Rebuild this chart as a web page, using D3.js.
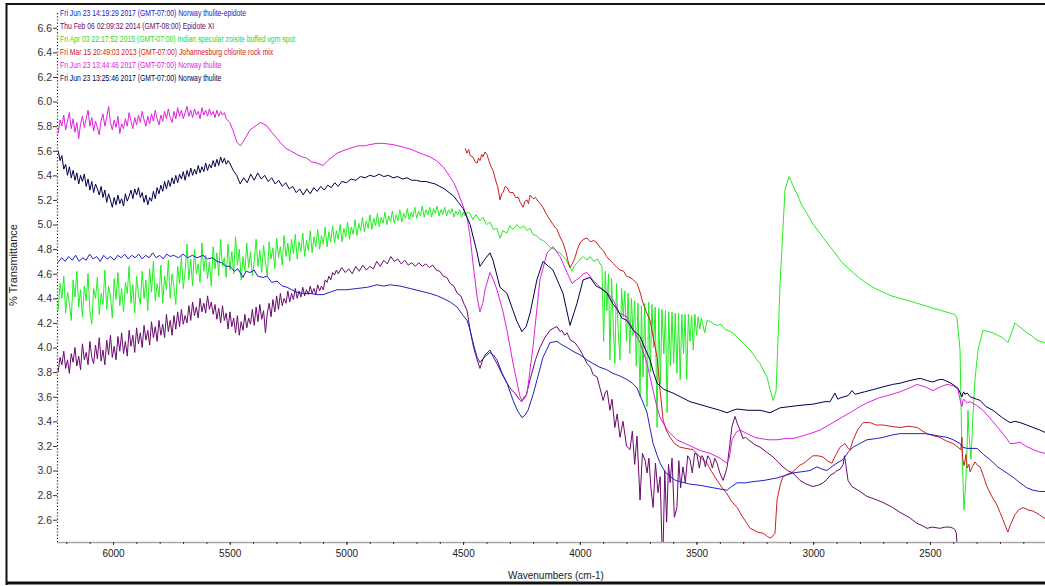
<!DOCTYPE html>
<html><head><meta charset="utf-8">
<script src="https://cdn.jsdelivr.net/npm/d3@7"></script>
<style>body{margin:0;background:#fff}svg{display:block;font-family:"Liberation Sans",Arial,sans-serif}</style>
</head><body><svg id="c" width="1045" height="586"></svg>
<script>
const legendLabels = [
  "Fri Jun 23 14:19:29 2017 (GMT-07:00) Norway thulite-epidote",
  "Thu Feb 06 02:09:32 2014 (GMT-08:00) Epidote XI",
  "Fri Apr 03 22:17:52 2015 (GMT-07:00) Indian specular zoisite buffed vgm spot",
  "Fri Mar 15 20:49:03 2013 (GMT-07:00) Johannesburg chlorite rock  mix",
  "Fri Jun 23 13:44:46 2017 (GMT-07:00) Norway thulite",
  "Fri Jun 23 13:25:46 2017 (GMT-07:00) Norway thulite"
];
const seriesColors = ["#2020c8", "#6a0a6e", "#22ee22", "#cc2020", "#e020e0", "#00004e"];
const xTickValues = [6000, 5500, 5000, 4500, 4000, 3500, 3000, 2500];
const xMinorTicks = d3.range(6200, 2000, -100);
const yTickValues = [2.6, 2.8, 3.0, 3.2, 3.4, 3.6, 3.8, 4.0, 4.2, 4.4, 4.6, 4.8, 5.0, 5.2, 5.4, 5.6, 5.8, 6.0, 6.2, 6.4, 6.6];
const xTitle = "Wavenumbers (cm-1)";
const yTitle = "% Transmittance";

const blueData = [[6236,4.69],[6220,4.73],[6205,4.70],[6190,4.74],[6175,4.71],[6160,4.75],[6145,4.70],[6130,4.73],[6115,4.71],[6100,4.76],[6085,4.72],[6070,4.74],[6055,4.70],[6040,4.75],[6025,4.72],[6010,4.74],[5995,4.71],[5980,4.75],[5965,4.73],[5950,4.76],[5935,4.72],[5920,4.75],[5905,4.73],[5890,4.76],[5875,4.72],[5860,4.75],[5845,4.73],[5830,4.77],[5815,4.73],[5800,4.75],[5785,4.72],[5770,4.76],[5755,4.74],[5740,4.75],[5720,4.73],[5700,4.76],[5680,4.73],[5660,4.75],[5640,4.73],[5614,4.75],[5595,4.72],[5575,4.73],[5554,4.70],[5535,4.69],[5515,4.66],[5499,4.66],[5480,4.62],[5465,4.64],[5443,4.57],[5430,4.62],[5413,4.61],[5395,4.63],[5380,4.58],[5357,4.57],[5340,4.58],[5320,4.53],[5297,4.54],[5275,4.50],[5254,4.49],[5235,4.47],[5212,4.45],[5185,4.44],[5156,4.44],[5125,4.43],[5100,4.43],[5070,4.45],[5040,4.47],[5000,4.47],[4955,4.48],[4910,4.49],[4869,4.51],[4840,4.50],[4813,4.51],[4770,4.50],[4727,4.48],[4685,4.46],[4642,4.44],[4610,4.42],[4586,4.40],[4555,4.37],[4526,4.33],[4500,4.26],[4483,4.22],[4470,4.14],[4455,4.02],[4440,3.92],[4428,3.88],[4405,3.93],[4385,3.96],[4370,3.94],[4355,3.90],[4335,3.80],[4312,3.71],[4286,3.57],[4265,3.48],[4248,3.43],[4235,3.45],[4222,3.49],[4200,3.62],[4183,3.74],[4158,3.92],[4140,3.99],[4128,4.04],[4098,4.05],[4075,4.02],[4055,4.00],[4030,3.97],[3999,3.94],[3970,3.90],[3943,3.87],[3915,3.84],[3885,3.82],[3858,3.79],[3830,3.77],[3798,3.74],[3775,3.71],[3755,3.67],[3735,3.58],[3712,3.47],[3700,3.35],[3686,3.22],[3670,3.13],[3656,3.06],[3635,2.99],[3613,2.95],[3590,2.92],[3571,2.91],[3530,2.89],[3485,2.88],[3429,2.86],[3400,2.85],[3369,2.84],[3350,2.87],[3326,2.90],[3290,2.90],[3258,2.91],[3210,2.92],[3155,2.94],[3120,2.96],[3087,2.98],[3050,2.99],[3014,3.00],[2984,3.03],[2960,3.01],[2941,3.00],[2915,3.04],[2890,3.07],[2872,3.09],[2850,3.15],[2829,3.19],[2800,3.22],[2770,3.25],[2730,3.26],[2701,3.27],[2660,3.29],[2628,3.30],[2590,3.30],[2555,3.30],[2520,3.30],[2487,3.29],[2460,3.28],[2427,3.27],[2400,3.25],[2371,3.22],[2360,3.19],[2341,3.18],[2320,3.18],[2298,3.18],[2270,3.13],[2243,3.09],[2210,3.03],[2170,2.98],[2140,2.94],[2114,2.90],[2085,2.86],[2058,2.84],[2030,2.83],[2007,2.83]];

const purpleData = [[6235,3.80],[6227,3.92],[6219,3.86],[6211,3.97],[6203,3.83],[6195,3.90],[6187,3.79],[6179,3.95],[6171,3.88],[6163,4.00],[6155,3.85],[6147,3.93],[6139,3.82],[6131,4.03],[6123,3.90],[6115,3.96],[6107,3.86],[6099,4.05],[6091,3.92],[6083,3.87],[6075,4.02],[6067,3.91],[6059,4.08],[6051,3.89],[6043,3.98],[6035,3.86],[6027,4.06],[6019,3.94],[6011,4.10],[6003,3.92],[5995,4.01],[5987,3.90],[5979,4.09],[5971,3.97],[5963,4.12],[5955,3.95],[5947,4.05],[5939,3.93],[5931,4.14],[5923,4.01],[5915,4.10],[5907,3.96],[5899,4.16],[5891,4.03],[5883,4.12],[5875,4.00],[5867,4.18],[5859,4.06],[5851,4.14],[5843,4.02],[5835,4.21],[5827,4.08],[5819,4.17],[5811,4.05],[5803,4.22],[5795,4.10],[5787,4.19],[5779,4.08],[5771,4.27],[5763,4.13],[5755,4.22],[5747,4.10],[5739,4.26],[5731,4.15],[5723,4.29],[5715,4.17],[5707,4.31],[5699,4.19],[5691,4.26],[5683,4.20],[5675,4.34],[5667,4.22],[5659,4.37],[5651,4.26],[5643,4.33],[5635,4.24],[5627,4.40],[5619,4.29],[5611,4.36],[5603,4.28],[5595,4.42],[5587,4.31],[5579,4.37],[5571,4.27],[5563,4.35],[5555,4.23],[5547,4.32],[5539,4.20],[5531,4.34],[5523,4.22],[5515,4.28],[5507,4.15],[5499,4.29],[5491,4.17],[5483,4.24],[5475,4.12],[5467,4.26],[5459,4.10],[5451,4.21],[5443,4.14],[5435,4.27],[5427,4.16],[5419,4.24],[5411,4.19],[5403,4.31],[5395,4.18],[5387,4.33],[5379,4.21],[5371,4.35],[5363,4.23],[5355,4.30],[5347,4.12],[5339,4.28],[5331,4.36],[5323,4.25],[5315,4.39],[5307,4.29],[5299,4.42],[5291,4.31],[5283,4.44],[5275,4.34],[5267,4.40],[5259,4.36],[5251,4.46],[5243,4.37],[5235,4.44],[5227,4.39],[5219,4.48],[5211,4.40],[5203,4.46],[5195,4.41],[5187,4.49],[5179,4.42],[5171,4.47],[5163,4.43],[5155,4.50],[5147,4.44],[5139,4.48],[5131,4.43],[5123,4.51],[5115,4.46],[5107,4.50],[5099,4.47],[5091,4.55],[5083,4.53],[5075,4.58],[5067,4.55],[5059,4.61],[5051,4.59],[5043,4.63],[5035,4.60],[5020,4.65],[5005,4.61],[4990,4.64],[4975,4.60],[4960,4.66],[4945,4.62],[4930,4.67],[4915,4.63],[4900,4.66],[4885,4.64],[4870,4.70],[4855,4.66],[4840,4.71],[4825,4.68],[4810,4.74],[4795,4.70],[4780,4.72],[4765,4.68],[4750,4.71],[4735,4.67],[4720,4.69],[4705,4.66],[4690,4.69],[4675,4.66],[4660,4.68],[4645,4.65],[4630,4.67],[4615,4.63],[4600,4.62],[4585,4.58],[4570,4.57],[4555,4.52],[4540,4.50],[4525,4.44],[4510,4.42],[4495,4.35],[4483,4.30],[4470,4.14],[4455,4.00],[4440,3.90],[4428,3.83],[4416,3.90],[4406,3.94],[4385,3.98],[4370,3.92],[4355,3.87],[4335,3.79],[4312,3.71],[4295,3.66],[4278,3.63],[4260,3.58],[4248,3.56],[4238,3.60],[4230,3.61],[4213,3.74],[4190,3.90],[4171,4.00],[4150,4.08],[4128,4.14],[4110,4.16],[4098,4.17],[4085,4.13],[4077,4.14],[4065,4.10],[4055,4.12],[4040,4.06],[4021,4.04],[4010,4.01],[3999,3.98],[3985,3.93],[3969,3.87],[3955,3.84],[3943,3.78],[3926,3.76],[3915,3.68],[3900,3.57],[3890,3.64],[3883,3.65],[3871,3.49],[3862,3.58],[3850,3.35],[3840,3.46],[3828,3.27],[3815,3.40],[3800,3.20],[3785,3.17],[3775,3.32],[3765,3.05],[3755,3.28],[3742,2.76],[3732,3.14],[3720,3.08],[3712,2.98],[3704,3.10],[3695,2.85],[3686,2.70],[3676,3.06],[3665,2.82],[3656,2.95],[3648,2.40],[3643,2.39],[3636,3.00],[3628,2.58],[3620,3.05],[3613,2.90],[3605,3.10],[3595,2.62],[3584,2.70],[3576,3.08],[3568,2.86],[3558,3.03],[3548,2.90],[3538,3.12],[3528,3.09],[3518,2.98],[3508,3.14],[3498,3.13],[3488,3.02],[3480,3.12],[3472,3.11],[3462,3.03],[3452,3.12],[3442,3.09],[3432,3.02],[3422,3.10],[3412,3.06],[3400,2.98],[3386,2.92],[3376,2.98],[3369,3.03],[3358,3.20],[3348,3.36],[3335,3.44],[3325,3.38],[3314,3.33],[3301,3.26],[3290,3.27],[3271,3.24],[3250,3.21],[3228,3.19],[3200,3.15],[3172,3.11],[3150,3.07],[3130,3.03],[3110,3.00],[3087,2.98],[3057,2.92],[3030,2.89],[3001,2.87],[2980,2.88],[2958,2.90],[2940,2.93],[2928,2.96],[2910,2.98],[2898,3.00],[2885,3.01],[2872,3.05],[2866,3.12],[2859,3.03],[2851,2.92],[2834,2.87],[2800,2.83],[2770,2.79],[2740,2.77],[2701,2.74],[2660,2.70],[2628,2.66],[2590,2.62],[2555,2.57],[2530,2.55],[2513,2.53],[2490,2.54],[2457,2.53],[2435,2.54],[2414,2.54],[2400,2.53],[2393,2.52],[2387,2.49],[2384,2.40]];

const greenData = [[6235,4.30],[6227,4.52],[6219,4.40],[6211,4.58],[6203,4.28],[6195,4.45],[6187,4.36],[6179,4.22],[6171,4.55],[6163,4.41],[6155,4.62],[6147,4.33],[6139,4.47],[6131,4.25],[6123,4.50],[6115,4.38],[6107,4.60],[6099,4.30],[6091,4.19],[6083,4.48],[6075,4.40],[6067,4.57],[6059,4.27],[6051,4.44],[6043,4.35],[6035,4.63],[6027,4.31],[6019,4.50],[6011,4.42],[6003,4.24],[5995,4.56],[5987,4.39],[5979,4.61],[5971,4.34],[5963,4.48],[5955,4.29],[5947,4.53],[5939,4.44],[5931,4.66],[5923,4.36],[5915,4.51],[5907,4.28],[5899,4.58],[5891,4.43],[5883,4.35],[5875,4.62],[5867,4.40],[5859,4.55],[5851,4.30],[5843,4.64],[5835,4.45],[5827,4.70],[5819,4.38],[5811,4.52],[5803,4.41],[5795,4.67],[5787,4.36],[5779,4.58],[5771,4.47],[5763,4.71],[5755,4.40],[5747,4.60],[5739,4.49],[5731,4.35],[5723,4.66],[5715,4.52],[5707,4.74],[5699,4.48],[5691,4.62],[5683,4.84],[5675,4.55],[5667,4.72],[5659,4.50],[5651,4.80],[5643,4.60],[5635,4.68],[5627,4.53],[5619,4.85],[5611,4.62],[5603,4.75],[5595,4.56],[5587,4.70],[5579,4.50],[5571,4.82],[5563,4.64],[5555,4.77],[5547,4.58],[5539,4.88],[5531,4.66],[5523,4.73],[5515,4.57],[5507,4.84],[5499,4.63],[5491,4.78],[5483,4.60],[5475,4.90],[5467,4.67],[5459,4.80],[5451,4.55],[5443,4.74],[5435,4.62],[5427,4.85],[5419,4.65],[5411,4.78],[5403,4.58],[5395,4.70],[5387,4.88],[5379,4.66],[5371,4.79],[5363,4.61],[5355,4.83],[5347,4.69],[5339,4.58],[5331,4.86],[5323,4.72],[5315,4.81],[5307,4.64],[5299,4.89],[5291,4.73],[5283,4.82],[5275,4.67],[5267,4.91],[5259,4.74],[5251,4.85],[5243,4.70],[5235,4.88],[5227,4.76],[5219,4.92],[5211,4.72],[5203,4.86],[5195,4.78],[5187,4.93],[5179,4.74],[5171,4.87],[5163,4.79],[5155,4.95],[5147,4.77],[5139,4.90],[5131,4.82],[5123,4.96],[5115,4.80],[5107,4.91],[5099,4.84],[5091,4.98],[5083,4.82],[5075,4.94],[5067,4.86],[5059,4.99],[5051,4.85],[5043,4.95],[5035,4.88],[5027,5.00],[5019,4.86],[5011,4.97],[5003,4.90],[4995,5.02],[4987,4.88],[4979,4.98],[4971,4.92],[4963,5.04],[4955,4.91],[4947,5.01],[4939,4.95],[4931,5.06],[4923,4.94],[4915,5.03],[4907,4.97],[4899,5.08],[4891,4.96],[4883,5.05],[4875,4.99],[4867,5.09],[4859,4.98],[4851,5.06],[4843,5.01],[4835,5.10],[4827,5.00],[4819,5.07],[4811,5.02],[4803,5.11],[4795,5.01],[4787,5.08],[4779,5.03],[4771,5.12],[4763,5.02],[4755,5.09],[4747,5.05],[4739,5.13],[4731,5.04],[4723,5.10],[4715,5.06],[4707,5.14],[4699,5.05],[4691,5.11],[4683,5.07],[4675,5.15],[4667,5.06],[4659,5.12],[4651,5.08],[4643,5.14],[4635,5.06],[4627,5.13],[4619,5.09],[4611,5.15],[4603,5.07],[4595,5.12],[4587,5.08],[4579,5.14],[4571,5.07],[4563,5.12],[4555,5.09],[4547,5.13],[4539,5.06],[4531,5.11],[4523,5.08],[4515,5.12],[4507,5.06],[4499,5.10],[4491,5.07],[4483,5.10],[4470,5.09],[4458,5.04],[4445,5.08],[4428,5.03],[4415,5.06],[4400,5.00],[4385,5.02],[4370,4.96],[4355,4.97],[4342,4.89],[4330,4.95],[4312,4.93],[4300,4.99],[4286,4.96],[4270,5.00],[4256,4.97],[4240,4.99],[4226,4.95],[4213,4.97],[4201,4.92],[4185,4.91],[4171,4.88],[4155,4.87],[4140,4.84],[4125,4.81],[4110,4.80],[4098,4.78],[4085,4.77],[4072,4.74],[4060,4.72],[4050,4.68],[4040,4.64],[4033,4.62],[4025,4.66],[4016,4.68],[4005,4.70],[3999,4.72],[3985,4.74],[3970,4.71],[3956,4.74],[3940,4.70],[3925,4.72],[3913,4.68],[3905,4.66],[3898,4.05],[3891,4.62],[3884,4.30],[3877,4.60],[3871,3.90],[3864,4.56],[3857,4.20],[3850,3.87],[3843,4.52],[3836,4.15],[3828,3.90],[3821,4.48],[3814,4.25],[3807,4.46],[3800,4.05],[3793,4.44],[3786,3.95],[3779,4.40],[3772,4.10],[3765,4.38],[3758,3.85],[3751,4.36],[3742,3.60],[3736,4.34],[3729,3.76],[3722,4.36],[3712,3.52],[3705,4.37],[3698,3.80],[3691,4.35],[3684,4.00],[3677,4.33],[3669,3.35],[3662,4.32],[3655,3.70],[3648,4.31],[3640,3.95],[3633,4.30],[3626,3.47],[3619,4.29],[3612,3.85],[3605,4.29],[3598,3.87],[3591,4.28],[3584,3.79],[3577,4.28],[3570,3.74],[3563,4.27],[3556,3.95],[3549,4.27],[3542,3.74],[3535,4.27],[3528,4.05],[3521,4.26],[3514,3.98],[3507,4.27],[3500,4.10],[3493,4.25],[3486,4.15],[3479,4.24],[3465,4.12],[3455,4.22],[3440,4.21],[3425,4.19],[3410,4.18],[3395,4.19],[3380,4.15],[3369,4.14],[3355,4.13],[3344,4.12],[3325,4.08],[3301,4.04],[3285,4.01],[3271,3.98],[3255,3.94],[3241,3.90],[3228,3.87],[3212,3.81],[3198,3.76],[3185,3.66],[3172,3.57],[3159,3.65],[3142,4.52],[3121,5.28],[3104,5.39],[3087,5.32],[3070,5.25],[3050,5.16],[3027,5.09],[3000,5.00],[2971,4.93],[2945,4.86],[2915,4.79],[2880,4.70],[2842,4.63],[2805,4.57],[2770,4.52],[2735,4.48],[2701,4.45],[2665,4.42],[2628,4.40],[2590,4.38],[2555,4.36],[2520,4.34],[2487,4.32],[2450,4.30],[2414,4.28],[2395,4.27],[2384,4.24],[2371,3.98],[2363,3.17],[2354,2.68],[2346,2.92],[2341,3.17],[2337,3.49],[2333,3.30],[2324,3.09],[2316,3.43],[2307,3.74],[2294,3.98],[2273,4.14],[2250,4.13],[2230,4.12],[2210,4.10],[2187,4.08],[2166,4.04],[2150,4.12],[2136,4.20],[2110,4.16],[2084,4.12],[2060,4.09],[2041,4.06],[2007,4.04]];

const redData = [[4491,5.62],[4484,5.58],[4476,5.61],[4470,5.56],[4458,5.55],[4449,5.51],[4440,5.50],[4434,5.54],[4428,5.52],[4420,5.57],[4415,5.55],[4406,5.59],[4398,5.57],[4390,5.52],[4380,5.47],[4372,5.44],[4362,5.37],[4351,5.30],[4342,5.20],[4335,5.25],[4329,5.26],[4320,5.31],[4312,5.30],[4300,5.26],[4286,5.26],[4275,5.22],[4264,5.22],[4255,5.18],[4243,5.14],[4235,5.19],[4226,5.20],[4220,5.17],[4213,5.24],[4200,5.21],[4190,5.22],[4183,5.20],[4170,5.17],[4158,5.14],[4145,5.09],[4128,5.04],[4115,5.00],[4098,4.96],[4085,4.90],[4072,4.85],[4060,4.78],[4050,4.70],[4042,4.65],[4030,4.69],[4021,4.73],[4010,4.80],[3999,4.85],[3985,4.88],[3969,4.89],[3955,4.86],[3940,4.87],[3926,4.85],[3912,4.81],[3900,4.79],[3885,4.74],[3871,4.71],[3855,4.68],[3840,4.65],[3828,4.63],[3812,4.62],[3800,4.58],[3785,4.57],[3770,4.55],[3755,4.52],[3742,4.45],[3729,4.36],[3715,4.29],[3699,4.22],[3685,4.08],[3669,3.92],[3656,3.65],[3643,3.41],[3630,3.33],[3613,3.27],[3595,3.22],[3571,3.19],[3545,3.18],[3515,3.17],[3485,3.11],[3455,3.06],[3435,2.99],[3412,2.92],[3390,2.86],[3369,2.81],[3350,2.75],[3326,2.70],[3305,2.63],[3284,2.57],[3270,2.53],[3258,2.52],[3240,2.50],[3215,2.49],[3200,2.47],[3185,2.45],[3172,2.47],[3164,2.49],[3155,2.76],[3142,2.88],[3130,2.95],[3110,2.97],[3087,2.99],[3060,3.04],[3040,3.06],[3027,3.08],[3001,3.12],[2980,3.12],[2958,3.11],[2940,3.08],[2920,3.06],[2905,3.12],[2885,3.19],[2864,3.22],[2850,3.18],[2842,3.17],[2829,3.25],[2810,3.33],[2786,3.39],[2757,3.39],[2730,3.37],[2701,3.37],[2670,3.36],[2628,3.35],[2590,3.36],[2555,3.35],[2530,3.32],[2513,3.30],[2480,3.28],[2457,3.27],[2430,3.24],[2401,3.22],[2380,3.19],[2368,3.17],[2363,3.27],[2360,3.10],[2354,3.04],[2350,3.08],[2346,3.13],[2340,3.02],[2333,3.05],[2328,2.99],[2318,3.03],[2307,3.07],[2295,3.04],[2285,3.03],[2270,2.95],[2256,2.87],[2235,2.79],[2213,2.72],[2200,2.66],[2187,2.60],[2175,2.54],[2166,2.50],[2155,2.56],[2136,2.64],[2120,2.68],[2101,2.70],[2080,2.68],[2058,2.67],[2030,2.64],[2007,2.61]];

const magentaData = [[6235,5.74],[6227,5.85],[6219,5.80],[6211,5.89],[6203,5.77],[6195,5.84],[6187,5.91],[6179,5.78],[6171,5.86],[6163,5.75],[6155,5.83],[6147,5.70],[6139,5.82],[6131,5.88],[6123,5.79],[6115,5.86],[6107,5.93],[6099,5.80],[6091,5.87],[6083,5.76],[6075,5.84],[6067,5.79],[6059,5.73],[6051,5.85],[6043,5.90],[6035,5.80],[6027,5.87],[6019,5.96],[6011,5.83],[6003,5.77],[5995,5.85],[5987,5.79],[5979,5.88],[5971,5.74],[5963,5.82],[5955,5.78],[5947,5.86],[5939,5.80],[5931,5.91],[5923,5.84],[5915,5.78],[5907,5.87],[5899,5.81],[5891,5.89],[5883,5.83],[5875,5.92],[5867,5.85],[5859,5.80],[5851,5.88],[5843,5.82],[5835,5.90],[5827,5.84],[5819,5.93],[5811,5.86],[5803,5.81],[5795,5.89],[5787,5.84],[5779,5.92],[5771,5.86],[5763,5.94],[5755,5.87],[5747,5.83],[5739,5.92],[5731,5.86],[5723,5.95],[5715,5.88],[5707,5.93],[5699,5.86],[5691,5.91],[5683,5.96],[5675,5.88],[5667,5.93],[5659,5.87],[5651,5.94],[5643,5.89],[5635,5.92],[5627,5.86],[5619,5.95],[5611,5.89],[5603,5.93],[5595,5.88],[5587,5.94],[5579,5.89],[5571,5.92],[5563,5.87],[5555,5.93],[5547,5.88],[5539,5.92],[5531,5.89],[5523,5.91],[5515,5.86],[5500,5.83],[5485,5.76],[5469,5.67],[5455,5.64],[5443,5.67],[5428,5.72],[5413,5.77],[5398,5.79],[5383,5.81],[5370,5.83],[5357,5.82],[5340,5.80],[5320,5.75],[5297,5.70],[5280,5.66],[5260,5.62],[5240,5.60],[5212,5.57],[5190,5.55],[5170,5.54],[5150,5.51],[5126,5.50],[5100,5.48],[5080,5.52],[5060,5.55],[5040,5.58],[5015,5.60],[4985,5.62],[4950,5.64],[4920,5.64],[4899,5.65],[4870,5.66],[4843,5.66],[4800,5.65],[4757,5.63],[4720,5.61],[4697,5.59],[4670,5.57],[4642,5.55],[4615,5.52],[4586,5.47],[4560,5.40],[4540,5.34],[4526,5.28],[4500,5.15],[4483,5.06],[4470,4.90],[4458,4.69],[4440,4.41],[4428,4.29],[4416,4.36],[4406,4.47],[4385,4.61],[4370,4.55],[4355,4.47],[4330,4.30],[4312,4.14],[4286,3.87],[4256,3.60],[4248,3.57],[4235,3.59],[4226,3.63],[4201,4.00],[4171,4.55],[4140,4.77],[4115,4.82],[4085,4.74],[4055,4.61],[4033,4.52],[4015,4.55],[3999,4.57],[3985,4.60],[3969,4.61],[3945,4.55],[3913,4.49],[3885,4.45],[3858,4.39],[3830,4.28],[3798,4.25],[3770,4.14],[3742,4.04],[3712,3.87],[3686,3.65],[3670,3.52],[3656,3.43],[3626,3.33],[3584,3.25],[3550,3.22],[3515,3.19],[3480,3.16],[3442,3.14],[3399,3.10],[3369,3.06],[3360,3.10],[3348,3.25],[3330,3.31],[3314,3.33],[3283,3.30],[3250,3.27],[3228,3.26],[3190,3.25],[3155,3.25],[3120,3.26],[3087,3.26],[3050,3.28],[3014,3.30],[2970,3.33],[2915,3.39],[2880,3.43],[2842,3.47],[2800,3.52],[2770,3.55],[2720,3.59],[2680,3.61],[2628,3.64],[2590,3.67],[2555,3.70],[2520,3.68],[2487,3.65],[2455,3.68],[2427,3.70],[2400,3.69],[2380,3.66],[2368,3.55],[2363,3.52],[2357,3.58],[2350,3.57],[2340,3.55],[2328,3.56],[2300,3.53],[2273,3.49],[2240,3.42],[2200,3.33],[2175,3.27],[2157,3.22],[2140,3.22],[2114,3.23],[2090,3.20],[2058,3.17],[2030,3.15],[2007,3.14]];

const navyData = [[6235,5.60],[6227,5.52],[6219,5.56],[6211,5.45],[6203,5.49],[6195,5.40],[6187,5.47],[6179,5.38],[6171,5.44],[6163,5.36],[6155,5.42],[6147,5.33],[6139,5.40],[6131,5.35],[6123,5.41],[6115,5.31],[6107,5.37],[6099,5.28],[6091,5.35],[6083,5.26],[6075,5.33],[6067,5.29],[6059,5.24],[6051,5.31],[6043,5.22],[6035,5.28],[6027,5.18],[6019,5.25],[6011,5.20],[6003,5.14],[5995,5.22],[5987,5.16],[5979,5.24],[5971,5.17],[5963,5.21],[5955,5.15],[5947,5.25],[5939,5.19],[5931,5.23],[5923,5.28],[5915,5.21],[5907,5.29],[5899,5.24],[5891,5.30],[5883,5.22],[5875,5.26],[5867,5.18],[5859,5.24],[5851,5.16],[5843,5.22],[5835,5.19],[5827,5.27],[5819,5.21],[5811,5.30],[5803,5.25],[5795,5.32],[5787,5.27],[5779,5.35],[5771,5.29],[5763,5.36],[5755,5.31],[5747,5.38],[5739,5.33],[5731,5.40],[5723,5.34],[5715,5.41],[5707,5.37],[5699,5.43],[5691,5.36],[5683,5.44],[5675,5.39],[5667,5.46],[5659,5.40],[5651,5.45],[5643,5.41],[5635,5.48],[5627,5.42],[5619,5.47],[5611,5.43],[5603,5.50],[5595,5.44],[5587,5.49],[5579,5.46],[5571,5.52],[5563,5.47],[5555,5.53],[5547,5.48],[5539,5.55],[5531,5.50],[5523,5.54],[5515,5.49],[5507,5.52],[5500,5.50],[5485,5.44],[5470,5.40],[5455,5.33],[5440,5.38],[5425,5.34],[5410,5.41],[5395,5.36],[5380,5.42],[5365,5.37],[5350,5.40],[5335,5.35],[5320,5.38],[5305,5.33],[5290,5.36],[5275,5.31],[5260,5.34],[5245,5.29],[5230,5.31],[5215,5.26],[5200,5.29],[5185,5.24],[5170,5.29],[5155,5.25],[5140,5.30],[5125,5.27],[5110,5.31],[5095,5.28],[5080,5.32],[5065,5.30],[5050,5.34],[5035,5.31],[5020,5.35],[5000,5.34],[4980,5.37],[4960,5.36],[4940,5.39],[4920,5.38],[4900,5.40],[4880,5.39],[4860,5.41],[4840,5.39],[4820,5.40],[4800,5.38],[4780,5.39],[4760,5.37],[4740,5.38],[4720,5.36],[4700,5.36],[4680,5.35],[4660,5.35],[4640,5.34],[4620,5.33],[4600,5.31],[4580,5.29],[4560,5.26],[4540,5.23],[4520,5.18],[4500,5.13],[4470,5.00],[4440,4.77],[4428,4.66],[4406,4.72],[4385,4.77],[4372,4.71],[4342,4.49],[4312,4.44],[4286,4.30],[4269,4.21],[4248,4.13],[4230,4.17],[4213,4.28],[4184,4.55],[4158,4.70],[4115,4.63],[4072,4.44],[4042,4.18],[4012,4.36],[3986,4.55],[3956,4.57],[3930,4.50],[3910,4.48],[3883,4.44],[3860,4.36],[3840,4.31],[3820,4.24],[3798,4.22],[3775,4.15],[3742,4.09],[3720,3.99],[3699,3.90],[3685,3.80],[3669,3.71],[3640,3.66],[3601,3.63],[3528,3.56],[3455,3.52],[3400,3.49],[3369,3.47],[3344,3.49],[3326,3.50],[3280,3.49],[3228,3.49],[3185,3.47],[3142,3.51],[3100,3.52],[3057,3.53],[3000,3.54],[2950,3.56],[2928,3.56],[2907,3.63],[2895,3.58],[2885,3.59],[2850,3.61],[2834,3.65],[2820,3.62],[2780,3.64],[2740,3.66],[2701,3.68],[2660,3.70],[2628,3.71],[2590,3.73],[2542,3.75],[2510,3.73],[2487,3.72],[2460,3.74],[2444,3.74],[2410,3.71],[2380,3.67],[2363,3.60],[2356,3.64],[2350,3.62],[2340,3.63],[2328,3.60],[2300,3.58],[2285,3.57],[2260,3.52],[2230,3.49],[2190,3.43],[2157,3.39],[2135,3.40],[2114,3.39],[2085,3.37],[2058,3.35],[2030,3.33],[2007,3.31]];

const seriesList = [blueData, purpleData, greenData, redData, magentaData, navyData];
const drawOrder = [2, 3, 1, 0, 4, 5];

const W = 1045, H = 586;
const plot = {left: 57, right: 1045, top: 5, bottom: 542};
const x = d3.scaleLinear().domain([6240, 2007]).range([plot.left, plot.right]);
const y = d3.scaleLinear().domain([2.419, 6.785]).range([plot.bottom, plot.top]);

const svg = d3.select("#c");
svg.append("rect").attr("width", W).attr("height", H).attr("fill", "#fff");

svg.append("defs").append("clipPath").attr("id", "clip")
  .append("rect").attr("x", plot.left).attr("y", plot.top)
  .attr("width", plot.right - plot.left).attr("height", plot.bottom - plot.top);

// frame
svg.append("line").attr("x1", 6).attr("x2", W).attr("y1", 4).attr("y2", 4).attr("stroke", "#111").attr("stroke-width", 2);
svg.append("line").attr("x1", 6.5).attr("x2", 6.5).attr("y1", 3).attr("y2", 585).attr("stroke", "#111").attr("stroke-width", 2);
svg.append("line").attr("x1", 6).attr("x2", W).attr("y1", 583).attr("y2", 583).attr("stroke", "#111").attr("stroke-width", 3);

// lines
const line = d3.line().x(d => x(d[0])).y(d => y(d[1]));
const g = svg.append("g").attr("clip-path", "url(#clip)");
drawOrder.forEach(i => {
  g.append("path").datum(seriesList[i]).attr("d", line)
    .attr("fill", "none").attr("stroke", seriesColors[i]).attr("stroke-width", 1)
    .attr("stroke-linejoin", "round");
});

// x axis
svg.append("line").attr("x1", plot.left).attr("x2", plot.right).attr("y1", plot.bottom + 0.5).attr("y2", plot.bottom + 0.5)
  .attr("stroke", "#a8a8a8").attr("stroke-width", 1.5);
const xMinor = svg.append("g").attr("transform", `translate(0,${plot.bottom})`)
  .call(d3.axisBottom(x).tickValues(xMinorTicks).tickSize(2).tickFormat(""));
xMinor.select(".domain").remove();
xMinor.selectAll(".tick line").attr("stroke", "#333");
const xAx = svg.append("g").attr("transform", `translate(0,${plot.bottom})`)
  .call(d3.axisBottom(x).tickValues(xTickValues).tickSize(3).tickPadding(5).tickFormat(d3.format("d")));
xAx.select(".domain").remove();
xAx.selectAll(".tick line").attr("stroke", "#333");
xAx.selectAll("text").attr("font-size", 10).attr("fill", "#222").attr("font-family", "Liberation Sans, Arial, sans-serif");

// y axis
svg.append("line").attr("x1", plot.left + 0.5).attr("x2", plot.left + 0.5).attr("y1", plot.top + 8).attr("y2", plot.bottom)
  .attr("stroke", "#222").attr("stroke-width", 1.2).attr("stroke-dasharray", "1.2,2");
const yAx = svg.append("g").attr("transform", `translate(${plot.left},0)`)
  .call(d3.axisLeft(y).tickValues(yTickValues).tickSize(4).tickPadding(1).tickFormat(d3.format(".1f")));
yAx.select(".domain").remove();
yAx.selectAll(".tick line").attr("stroke", "#333");
yAx.selectAll("text").attr("font-size", 10.5).attr("fill", "#333").attr("font-family", "Liberation Sans, Arial, sans-serif");

// titles
svg.append("text").attr("x", 556).attr("y", 579).attr("text-anchor", "middle")
  .attr("font-size", 10).attr("fill", "#222").text(xTitle);
svg.append("text").attr("transform", "translate(17,265) rotate(-90)").attr("text-anchor", "middle")
  .attr("font-size", 11).attr("fill", "#222").text(yTitle);

// legend
const legendG = svg.append("g");
const items = legendG.selectAll("text").data(legendLabels).enter().append("text")
  .attr("x", 60).attr("y", (d, i) => 16 + i * 13)
  .attr("font-size", 8.5).attr("fill", (d, i) => seriesColors[i] === "#22ee22" ? "#22dd22" : seriesColors[i])
  .text(d => d);
const baseLen = items.nodes()[0].getComputedTextLength();
const k = 186 / baseLen;
items.each(function() {
  const L = this.getComputedTextLength();
  d3.select(this).attr("textLength", L * k).attr("lengthAdjust", "spacingAndGlyphs");
});
</script>
</body></html>
